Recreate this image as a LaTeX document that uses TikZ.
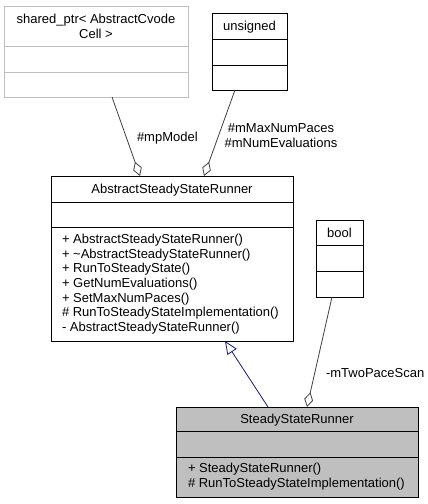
\documentclass[tikz,border=0pt]{standalone}
\usepackage{fontspec}
\setmainfont{Liberation Sans}
\usetikzlibrary{arrows.meta}
\definecolor{edgegray}{HTML}{404040}
\definecolor{boxgray}{HTML}{BFBFBF}
\definecolor{navyline}{HTML}{191970}
\begin{document}
\begin{tikzpicture}[x=1pt,y=-1pt,
  box/.style={draw=black, line width=0.9pt, rectangle, inner sep=0pt, outer sep=0pt},
  txt/.style={inner sep=0pt, outer sep=0pt, font=\fontsize{13}{14.6}\selectfont, text=black},
  divider/.style={line width=0.9pt},
  aggr/.style={draw=edgegray, line width=0.8pt, -{Diamond[open, length=15pt, width=9pt, line width=0.8pt]}},
  inherit/.style={draw=navyline, line width=0.8pt, -{Triangle[open, length=13pt, width=11pt, line width=0.8pt]}}
]
\useasboundingbox (0,0) rectangle (428,504);
\fill[white] (0,0) rectangle (428,504);

% shared_ptr box
\node[box, draw=boxgray, minimum width=184pt, minimum height=91pt] (sp) at (96,51.5) {};
\draw[divider, boxgray] (4,46) -- (188,46) (4,72) -- (188,72);
\node[txt, align=center] (spt) at (96,26.5) {shared\_ptr< AbstractCvode\\Cell >};

% unsigned box
\node[box, minimum width=75pt, minimum height=77pt] (un) at (249.5,51.5) {};
\draw[divider] (212,39) -- (287,39) (212,65) -- (287,65);
\node[txt, anchor=base] (unt) at (249.5,30.7) {unsigned};

% AbstractSteadyStateRunner box
\node[box, minimum width=242pt, minimum height=165pt] (asr) at (172,258.5) {};
\draw[divider] (51,202) -- (293,202) (51,227) -- (293,227);
\node[txt, anchor=base] (asrt) at (172,193.7) {AbstractSteadyStateRunner};
\foreach \t [count=\i] in {{+ AbstractSteadyStateRunner()},{+ \textasciitilde AbstractSteadyStateRunner()},{+ RunToSteadyState()},{+ GetNumEvaluations()},{+ SetMaxNumPaces()},{\# RunToSteadyStateImplementation()},{- AbstractSteadyStateRunner()}}
  \node[txt, anchor=base west] (asrm\i) at (62,{243.7+14.6*(\i-1)}) {\t};

% bool box
\node[box, minimum width=47pt, minimum height=77pt] (bo) at (339.5,258.5) {};
\draw[divider] (316,245) -- (363,245) (316,271) -- (363,271);
\node[txt, anchor=base] (bot) at (339.5,237.2) {bool};

% SteadyStateRunner box
\node[box, fill=boxgray, minimum width=242pt, minimum height=90pt] (ssr) at (297,452) {};
\draw[divider] (176,431) -- (418,431) (176,457) -- (418,457);
\node[txt, anchor=base] (ssrt) at (297,423.7) {SteadyStateRunner};
\node[txt, anchor=base west] (ssrm1) at (188,472.7) {+ SteadyStateRunner()};
\node[txt, anchor=base west] (ssrm2) at (188,487.3) {\# RunToSteadyStateImplementation()};

% connectors
\draw[aggr] ([xshift=16pt]sp.south) -- ([xshift=-32pt]asr.north);
\node[txt, anchor=base west] (lmp) at (137,141.7) {\#mpModel};

\draw[aggr] ([xshift=-14.5pt]un.south) -- ([xshift=32pt]asr.north);
\node[txt, align=center] (lun) at (281,135.3) {\#mMaxNumPaces\\\#mNumEvaluations};

\draw[inherit] ([xshift=-29pt]ssr.north) -- ([xshift=53pt]asr.south);

\draw[aggr] ([xshift=-7.5pt]bo.south) -- ([xshift=10pt]ssr.north);
\node[txt, anchor=base west] (lbo) at (326,377.7) {-mTwoPaceScan};
\end{tikzpicture}
\end{document}
